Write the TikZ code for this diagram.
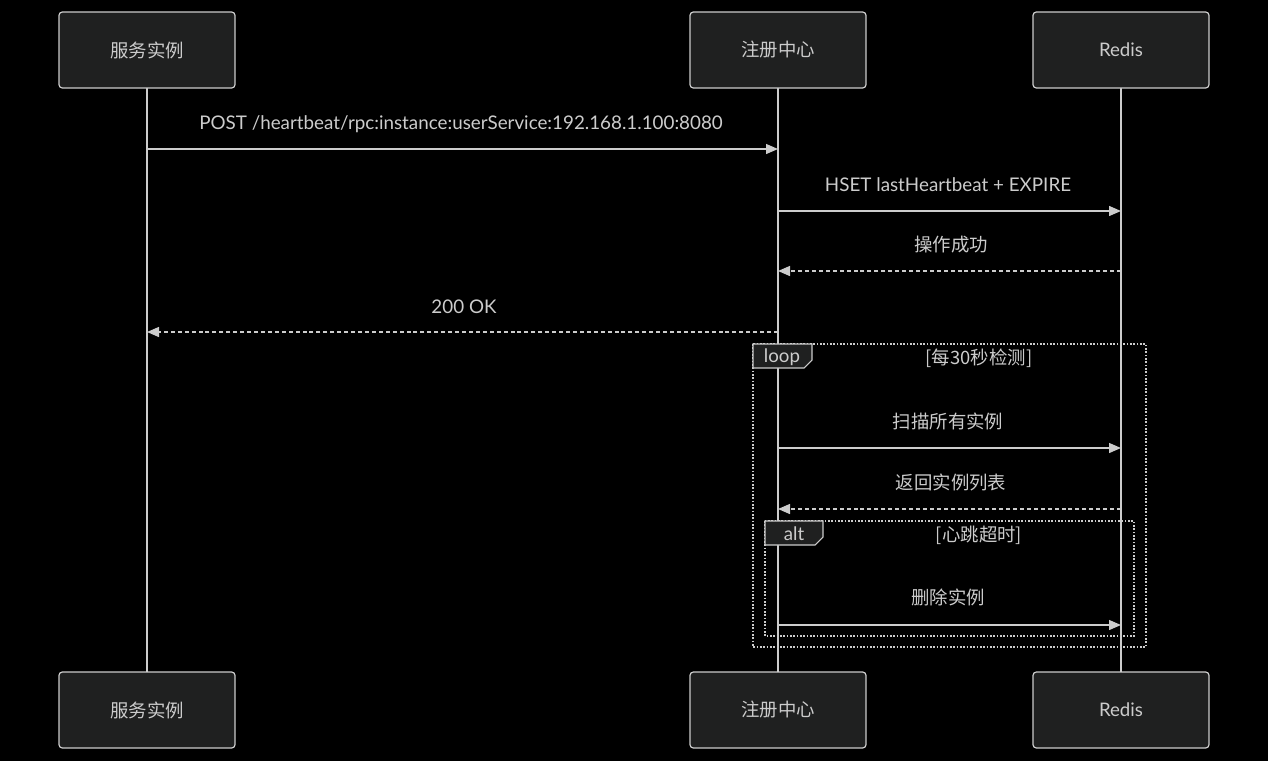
\documentclass[tikz,border=0pt]{standalone}
\usepackage{fontspec}
\setmainfont{Lato}
\newfontfamily\cjk{Noto Sans CJK SC}
\usetikzlibrary{arrows.meta}

\definecolor{ink}{HTML}{CCCCCC}
\definecolor{boxfill}{HTML}{1F2020}

\tikzset{
    actor/.style={draw=ink, fill=boxfill, rounded corners=2.5pt, line width=0.9pt,
        minimum width=132pt, minimum height=57pt, text=ink, font=\cjk\fontsize{13.8}{16}\selectfont},
    life/.style={draw=ink, line width=1.1pt},
    msg/.style={draw=ink, line width=1pt, -{Triangle[length=9pt,width=7.5pt]}},
    reply/.style={msg, dash pattern=on 3pt off 2.2pt},
    msgtext/.style={text=ink, font=\fontsize{14.1}{16}\selectfont},
    cjktext/.style={text=ink, font=\cjk\fontsize{13.8}{16}\selectfont},
    frame/.style={draw=ink, line width=1pt, dash pattern=on 1.2pt off 1.3pt},
    tab/.style={draw=ink, fill=boxfill, line width=0.8pt},
    tabtext/.style={text=ink, font=\fontsize{14}{16}\selectfont}
}

\begin{document}
\begin{tikzpicture}[x=0.75pt, y=-0.75pt]

    % canvas
    \fill[black] (0,0) rectangle (1268,761);
    \useasboundingbox (0,0) rectangle (1268,761);

    % message rows
    \path (0,149) coordinate (r1)
          (0,211) coordinate (r2)
          (0,271) coordinate (r3)
          (0,332) coordinate (r4)
          (0,448) coordinate (r5)
          (0,509) coordinate (r6)
          (0,625) coordinate (r7);

    % lifelines (behind the boxes)
    \draw[life] (147,88) -- (147,672);
    \draw[life] (778,88) -- (778,672);
    \draw[life] (1121,88) -- (1121,672);

    % actors, top and bottom
    \node[actor] (svc)  at (147,50)  {服务实例};
    \node[actor] (reg)  at (778,50)  {注册中心};
    \node[actor, font=\fontsize{14}{16}\selectfont] (redis) at (1121,50) {Redis};
    \node[actor] (svcB)  at (147,710)  {服务实例};
    \node[actor] (regB)  at (778,710)  {注册中心};
    \node[actor, font=\fontsize{14}{16}\selectfont] (redisB) at (1121,710) {Redis};

    % heartbeat
    \node[msgtext] (m1) at (461,124) {POST /heartbeat/rpc:instance:userService:192.168.1.100:8080};
    \draw[msg] (svc |- r1) -- (reg |- r1);

    \node[msgtext] (m2) at (948,185) {HSET lastHeartbeat + EXPIRE};
    \draw[msg] (reg |- r2) -- (redis |- r2);

    \node[cjktext] (m3) at (951,245) {操作成功};
    \draw[reply] (redis |- r3) -- (reg |- r3);

    \node[msgtext] (m4) at (464,307) {200 OK};
    \draw[reply] (reg |- r4) -- (svc |- r4);

    % loop frame
    \draw[frame] (753,344) rectangle (1146,647);
    \draw[tab] (753,344) -- (812,344) -- (812,360) -- (804,368) -- (753,368) -- cycle;
    \node[tabtext] (looptag) at (782,357) {loop};
    \node[cjktext] (loopcond) at (979,358) {[每30秒检测]};

    \node[cjktext] (m5) at (948,421) {扫描所有实例};
    \draw[msg] (reg |- r5) -- (redis |- r5);

    \node[cjktext] (m6) at (951,482) {返回实例列表};
    \draw[reply] (redis |- r6) -- (reg |- r6);

    % alt frame
    \draw[frame] (765,521) rectangle (1134,636);
    \draw[tab] (765,521) -- (823,521) -- (823,537) -- (815,545) -- (765,545) -- cycle;
    \node[tabtext] (alttag) at (794,534) {alt};
    \node[cjktext] (altcond) at (979,535) {[心跳超时]};

    \node[cjktext] (m7) at (948,597) {删除实例};
    \draw[msg] (reg |- r7) -- (redis |- r7);

\end{tikzpicture}
\end{document}
